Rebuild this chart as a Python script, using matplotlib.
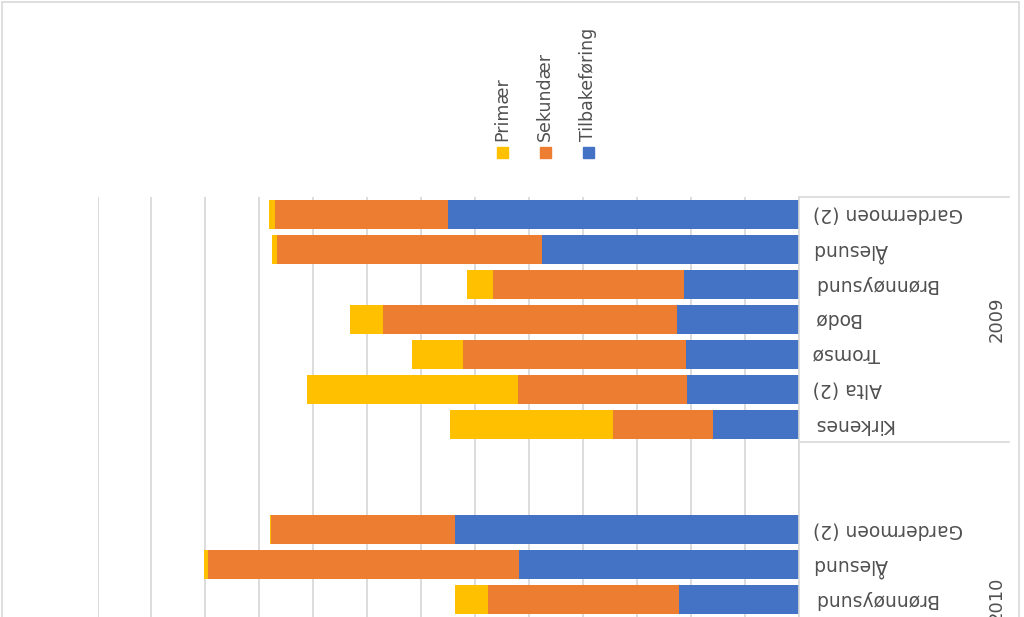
import numpy as np
import matplotlib
matplotlib.use("Agg")
import matplotlib.pyplot as plt
from matplotlib.transforms import blended_transform_factory
from matplotlib.patches import Rectangle

# ---- data ----
series_names = ["Primær", "Sekundær", "Tilbakeføring"]
series_colors = ["#FFC000", "#ED7D31", "#4472C4"]

groups = ["2009", "2010"]
group_slots = [7, 9]          # number of category slots per group

labels_2009 = ["Gardermoen (2)", "Ålesund", "Brønnøysund", "Bodø", "Tromsø", "Alta (2)", "Kirkenes"]
primaer_2009 = [1.2, 0.8, 4.9, 6.3, 9.5, 39.1, 30.1]
sekundaer_2009 = [32.0, 49.2, 35.4, 54.4, 41.4, 31.2, 18.6]
tilbake_2009 = [65.1, 47.6, 21.3, 22.6, 20.9, 20.8, 15.9]

labels_2010 = ["", "", "Gardermoen (2)", "Ålesund", "Brønnøysund"]
primaer_2010 = [None, None, 0.2, 0.7, 6.2]
sekundaer_2010 = [None, None, 34.1, 57.6, 35.4]
tilbake_2010 = [None, None, 63.7, 51.9, 22.2]

x_max = 130
x_step = 10

# ---- figure ----
W, H = 1024, 617
fig = plt.figure(figsize=(W / 100, H / 100), dpi=100)
fig.patch.set_facecolor("white")

ax_left, ax_right, ax_top, ax_bottom = 97.5, 799.0, 197.0, 617.0
ax = fig.add_axes([ax_left / W, 1 - ax_bottom / H, (ax_right - ax_left) / W, (ax_bottom - ax_top) / H])

text_color = "#505050"
grid_color = "#D9D9D9"
font = "DejaVu Sans"

labels = labels_2009 + labels_2010
prim = primaer_2009 + primaer_2010
sek = sekundaer_2009 + sekundaer_2010
til = tilbake_2009 + tilbake_2010
ypos = [i + 0.5 for i in range(len(labels))]

bar_h = 0.83
for y, p, s, t in zip(ypos, prim, sek, til):
    if t is None:
        continue
    ax.barh(y, t, left=0, height=bar_h, color=series_colors[2], zorder=2)
    ax.barh(y, s, left=t, height=bar_h, color=series_colors[1], zorder=2)
    ax.barh(y, p, left=t + s, height=bar_h, color=series_colors[0], zorder=2)

ax.set_xlim(x_max, 0)
ax.set_ylim((ax_bottom - ax_top) / 35.0, 0)
ax.set_xticks(np.arange(0, x_max + 1, x_step))
ax.xaxis.grid(True, color=grid_color, linewidth=1.3)
ax.set_axisbelow(True)
ax.tick_params(axis="x", length=0, labelbottom=False)

ax.yaxis.tick_right()
ax.set_yticks(ypos)
ax.set_yticklabels(labels, rotation=180, ha="left", va="center",
                   fontsize=13.5, color=text_color, family=font)
ax.tick_params(axis="y", length=0, pad=10)

for sp in ["top", "left", "bottom"]:
    ax.spines[sp].set_visible(False)
ax.spines["right"].set_color(grid_color)
ax.spines["right"].set_linewidth(1.2)

# group separators and group labels
tr = blended_transform_factory(ax.transAxes, ax.transData)
sep_x_end = 1 + (1009 - ax_right) / (ax_right - ax_left)
grp_x = 1 + (997 - ax_right) / (ax_right - ax_left)
start = 0
for g, n in zip(groups, group_slots):
    ax.plot([1, sep_x_end], [start, start], transform=tr, color=grid_color,
            lw=1.2, clip_on=False)
    ax.text(grp_x, start + n / 2, g, transform=tr, rotation=90, ha="center",
            va="center", fontsize=13, color=text_color, family=font, clip_on=False)
    start += n
ax.plot([1, sep_x_end], [start, start], transform=tr, color=grid_color, lw=1.2, clip_on=False)

# legend (rotated)
leg_x = [502, 545, 588]
for name, col, lx in zip(series_names, series_colors, leg_x):
    fig.patches.append(Rectangle(((lx - 5.5) / W, 1 - 158 / H), 11 / W, 11 / H,
                                 transform=fig.transFigure, color=col))
    fig.text(lx / W, 1 - 141 / H, name, rotation=90, ha="center", va="bottom",
             fontsize=12.5, color=text_color, family=font)

# chart border
fig.patches.append(Rectangle((2 / W, -0.2), 1017 / W, 1.2 - 2 / H,
                             transform=fig.transFigure, fill=False,
                             edgecolor=grid_color, lw=1.2))

fig.savefig("out.png", dpi=100)
